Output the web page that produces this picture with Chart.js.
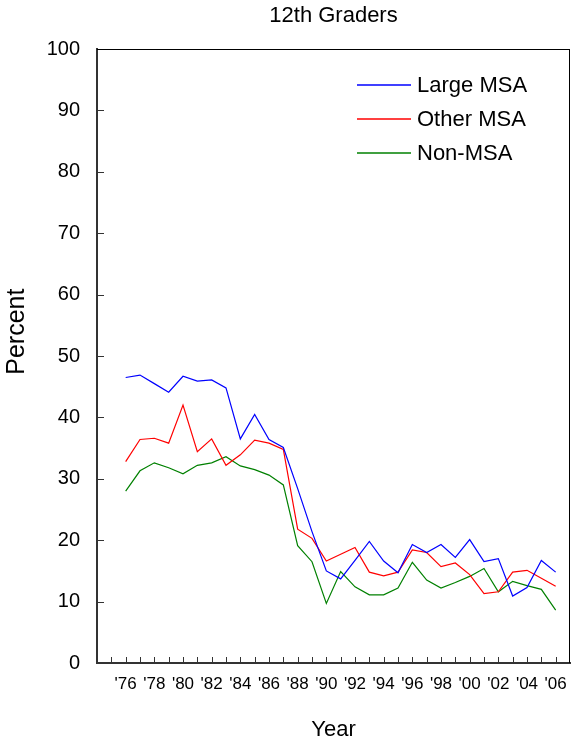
<!DOCTYPE html>
<html>
<head>
<meta charset="utf-8">
<script src="https://cdn.jsdelivr.net/npm/chart.js@4/dist/chart.umd.min.js"></script>
<style>
  html, body { margin: 0; padding: 0; background: #fff; }
  #wrap { width: 571px; height: 741px; }
</style>
</head>
<body>
<div id="wrap"><canvas id="chart" width="571" height="741"></canvas></div>
<script>
// Data (percent, 12th graders)
const years = [1976, 1977, 1978, 1979, 1980, 1981, 1982, 1983, 1984, 1985, 1986, 1987, 1988, 1989, 1990,
  1991, 1992, 1993, 1994, 1995, 1996, 1997, 1998, 1999, 2000, 2001, 2002, 2003, 2004, 2005, 2006];
const largeMSA = [46.5, 46.9, 45.5, 44.1, 46.7, 45.9, 46.1, 44.8, 36.5, 40.5, 36.4, 35.1, 28.4, 21.4, 15.0,
  13.7, 16.7, 19.8, 16.6, 14.7, 19.3, 18.0, 19.3, 17.2, 20.1, 16.5, 17.0, 10.9, 12.3, 16.7, 14.8];
const otherMSA = [32.8, 36.4, 36.6, 35.8, 42.0, 34.4, 36.5, 32.2, 33.9, 36.3, 35.8, 34.8, 21.8, 20.3, 16.6,
  17.7, 18.8, 14.8, 14.2, 14.8, 18.4, 18.0, 15.7, 16.3, 14.4, 11.3, 11.6, 14.8, 15.1, 13.8, 12.5];
const nonMSA = [28.0, 31.3, 32.6, 31.8, 30.8, 32.2, 32.6, 33.6, 32.1, 31.5, 30.6, 29.0, 19.1, 16.5, 9.7,
  14.9, 12.4, 11.1, 11.1, 12.2, 16.4, 13.5, 12.2, 13.1, 14.1, 15.4, 11.6, 13.3, 12.6, 12.0, 8.6];

const seriesNames = ['Large MSA', 'Other MSA', 'Non-MSA'];
const seriesColors = ['#0000ff', '#ff0000', '#008000'];

const labelYears = [1976, 1978, 1980, 1982, 1984, 1986, 1988, 1990, 1992, 1994, 1996, 1998, 2000, 2002, 2004, 2006];
const xTickLabels = ["'76", "'78", "'80", "'82", "'84", "'86", "'88", "'90", "'92", "'94", "'96", "'98", "'00", "'02", "'04", "'06"];

const FONT = '"Liberation Sans", Arial, sans-serif';
Chart.defaults.font.family = FONT;
Chart.defaults.color = '#000';

const toPoints = vals => vals.map((v, i) => ({ x: years[i], y: v }));

// Frame, inward tick marks and the in-plot legend
const framePlugin = {
  id: 'frame',
  afterDatasetsDraw(chart) {
    const { ctx, chartArea: a, scales } = chart;
    const top = Math.round(a.top), right = Math.round(a.right), bottom = Math.round(a.bottom), left = Math.round(a.left);
    ctx.save();
    ctx.strokeStyle = '#000';
    ctx.lineWidth = 1;
    ctx.beginPath();
    ctx.moveTo(left, top + 0.5);
    ctx.lineTo(right, top + 0.5);
    ctx.moveTo(right - 0.5, top);
    ctx.lineTo(right - 0.5, bottom);
    ctx.stroke();

    ctx.strokeStyle = '#333';
    ctx.beginPath();
    for (let yr = years[0] - 1; yr <= years[years.length - 1]; yr++) {
      const x = Math.round(scales.x.getPixelForValue(yr)) + 0.5;
      ctx.moveTo(x, bottom);
      ctx.lineTo(x, bottom - 6);
    }
    for (let v = 10; v < 100; v += 10) {
      const y = Math.round(scales.y.getPixelForValue(v)) + 0.5;
      ctx.moveTo(left, y);
      ctx.lineTo(left + 7, y);
    }
    ctx.stroke();

    // legend
    const lx = right - 213;
    ctx.font = '22px ' + FONT;
    ctx.textBaseline = 'middle';
    ctx.textAlign = 'left';
    seriesNames.forEach((name, i) => {
      const ly = top + 36 + i * 34;
      ctx.beginPath();
      ctx.strokeStyle = seriesColors[i];
      ctx.lineWidth = 1.5;
      ctx.moveTo(lx, ly);
      ctx.lineTo(lx + 54, ly);
      ctx.stroke();
      ctx.fillStyle = '#000';
      ctx.fillText(name, lx + 60, ly + 1);
    });
    ctx.restore();
  }
};

new Chart(document.getElementById('chart'), {
  type: 'line',
  data: {
    datasets: [largeMSA, otherMSA, nonMSA].map((vals, i) => ({
      label: seriesNames[i],
      data: toPoints(vals),
      borderColor: seriesColors[i]
    }))
  },
  options: {
    responsive: false,
    animation: false,
    devicePixelRatio: 1,
    layout: { padding: { left: 0, right: 1, top: 0, bottom: 0 } },
    elements: {
      line: { borderWidth: 1.2, tension: 0, fill: false },
      point: { radius: 0 }
    },
    plugins: {
      legend: { display: false },
      tooltip: { enabled: false },
      title: {
        display: true,
        text: '12th Graders',
        fullSize: false,
        color: '#000',
        font: { size: 22, weight: 'normal', lineHeight: 1.25 },
        padding: { top: 2.5, bottom: 19 }
      }
    },
    scales: {
      x: {
        type: 'linear',
        min: 1974,
        max: 2007,
        grid: { display: false, drawTicks: false },
        border: { display: true, color: '#333', width: 2 },
        ticks: {
          stepSize: 1,
          autoSkip: false,
          maxRotation: 0,
          padding: 11,
          color: '#000',
          font: { size: 17 },
          callback: v => {
            const i = labelYears.indexOf(v);
            return i >= 0 ? xTickLabels[i] : '';
          }
        },
        title: {
          display: true,
          text: 'Year',
          color: '#000',
          font: { size: 22, lineHeight: 1 },
          padding: { top: 0, bottom: 0 }
        },
        afterFit: s => { s.height = 78; s.paddingLeft = 0; s.paddingRight = 0; }
      },
      y: {
        min: 0,
        max: 100,
        grid: { display: false, drawTicks: false },
        border: { display: true, color: '#333', width: 2 },
        ticks: {
          stepSize: 10,
          padding: 17,
          color: '#000',
          font: { size: 20 }
        },
        title: {
          display: true,
          // leading spaces lift the label above the axis middle, as in the original
          text: '       Percent',
          color: '#000',
          font: { size: 25, lineHeight: 1.2 },
          padding: { top: 2, bottom: 0 }
        },
        afterFit: s => { s.width = 97; }
      }
    }
  },
  plugins: [framePlugin]
});
</script>
</body>
</html>
